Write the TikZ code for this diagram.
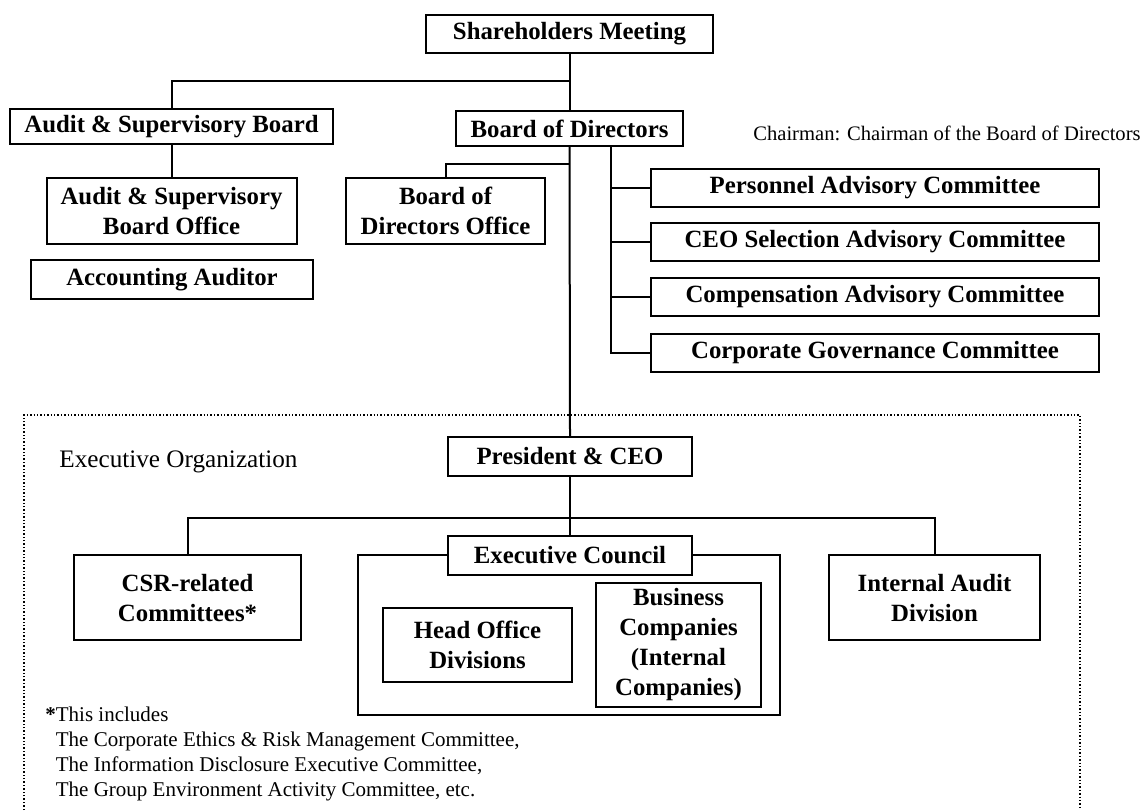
\documentclass[tikz,border=0pt]{standalone}
\usepackage{fontspec}
\setmainfont{Liberation Serif}
\newcommand\bxfont{\fontsize{12.4}{15}\selectfont\bfseries}
\newcommand\txfont{\fontsize{10.5}{12.5}\selectfont}
\tikzset{
  orgbox/.style={draw,line width=1pt,fill=white,inner sep=0pt,align=center,font=\bxfont},
  sz/.style 2 args={minimum width=#1*0.5pt,minimum height=#2*0.5pt},
  link/.style={line width=1pt},
}
\begin{document}
\begin{tikzpicture}[x=0.5pt,y=-0.5pt,line join=miter]
\useasboundingbox (0,0) rectangle (1143,810);
% executive area (dotted, open at the bottom)
\draw[densely dotted,line width=0.7pt] (24,810) |- (1080,415) -- (1080,810);
% governance
\node[orgbox,sz={287}{38}] (sm) at (569.5,34) {Shareholders Meeting};
\node[orgbox,sz={323}{35}] (asb) at (171.5,126.5) {Audit \& Supervisory Board};
\node[orgbox,sz={227}{35}] (bod) at (569.5,128.5) {Board of Directors};
\node[orgbox,sz={250}{66}] (asbo) at (171.5,211) {Audit \& Supervisory\\Board Office};
\node[orgbox,sz={282}{39}] (aa) at (172,279.5) {Accounting Auditor};
\node[orgbox,sz={199}{66}] (bodo) at (445.5,211) {Board of\\Directors Office};
\node[anchor=east,inner sep=0pt,font=\fontsize{10.3}{12}\selectfont] (chair) at (1141,133) {Chairman: Chairman of the Board of Directors};
\node[orgbox,sz={448}{38}] (c1) at (875,187.5) {Personnel Advisory Committee};
\node[orgbox,sz={448}{38}] (c2) at (875,242) {CEO Selection Advisory Committee};
\node[orgbox,sz={448}{38}] (c3) at (875,296.5) {Compensation Advisory Committee};
\node[orgbox,sz={448}{38}] (c4) at (875,352.5) {Corporate Governance Committee};
\coordinate (cv) at (611,146);
% executive organization
\node[anchor=west,inner sep=0pt,font=\fontsize{12.6}{14}\selectfont] (exorg) at (59,462) {Executive Organization};
\node[orgbox,sz={244}{39}] (pres) at (570,456.5) {President \& CEO};
\node[orgbox,sz={227}{85}] (csr) at (187.5,597.5) {CSR-related\\Committees*};
\node[orgbox,sz={211}{85}] (iad) at (934.5,597.5) {Internal Audit\\Division};
\node[orgbox,sz={422}{160}] (ecframe) at (569,635) {};
\node[orgbox,sz={244}{39}] (ec) at (570,555.5) {Executive Council};
\node[orgbox,sz={189}{74}] (hod) at (477.5,645) {Head Office\\Divisions};
\node[orgbox,sz={165}{124}] (bc) at (678.5,645) {Business\\Companies\\(Internal\\Companies)};
\node[anchor=base west,align=left,inner sep=0pt,font=\txfont] (note) at (45,796)
  {\textbf{*}This includes\\
   \hphantom{\textbf{*}}The Corporate Ethics \& Risk Management Committee,\\
   \hphantom{\textbf{*}}The Information Disclosure Executive Committee,\\
   \hphantom{\textbf{*}}The Group Environment Activity Committee, etc.};
% connectors
\draw[link] (sm.south) -- (bod.north);
\draw[link] (sm.south) ++(0,27) -| (asb.north);
\draw[link] (asb.south) -- (asbo.north);
\draw[link] (bod.south) ++(0,17) -| (bodo.north);
\draw[link] (bod.south) -- (pres.north);
\draw[link] (cv) |- (c4.west);
\foreach \c in {c1,c2,c3}
  \draw[link] (cv |- \c.west) -- (\c.west);
\draw[link] (pres.south) -- (ec.north);
\draw[link] (pres.south) ++(0,41) coordinate (eh);
\draw[link] (csr.north) |- (eh) -| (iad.north);
\end{tikzpicture}
\end{document}
